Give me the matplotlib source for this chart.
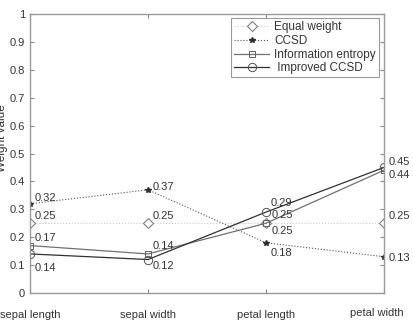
import matplotlib
matplotlib.use("Agg")
import matplotlib.pyplot as plt
from matplotlib.transforms import ScaledTranslation

categories = ["sepal length", "sepal width", "petal length", "petal width"]
equal_weight = [0.25, 0.25, 0.25, 0.25]
ccsd = [0.32, 0.37, 0.18, 0.13]
info_entropy = [0.17, 0.14, 0.25, 0.44]
improved_ccsd = [0.14, 0.12, 0.29, 0.45]

plt.rcParams['font.family'] = ['Liberation Sans', 'DejaVu Sans']

fig = plt.figure(figsize=(4.13, 3.32), dpi=100)
ax = fig.add_axes([30/413, 39/332, 354/413, 279/332])
x = [1, 2, 3, 4]

ax.plot(x, equal_weight, color='#c8c8c8', lw=0.8, ls=':', marker='D', ms=5,
        mfc='white', mec='#707070', mew=0.7, label='Equal weight')
ax.plot(x, ccsd, color='#505050', lw=0.8, ls=':', marker='*', ms=4,
        mfc='#303030', mec='#303030', label='CCSD')
ax.plot(x, info_entropy, color='#707070', lw=0.9, marker='s', ms=5,
        mfc='none', mec='#606060', mew=0.7, label='Information entropy')
ax.plot(x, improved_ccsd, color='#303030', lw=0.9, marker='o', ms=6,
        mfc='none', mec='#505050', mew=0.7, label=' Improved CCSD')

# annotation offsets in pixels (dx, dy)
offs = {
    'eq': [(5, 7), (5, 7), (6, -8), (5, 7)],
    'cc': [(5, 6), (5, 3), (5, -10), (5, -1)],
    'ie': [(5, 8), (5, 8), (6, 8), (5, -5)],
    'ic': [(5, -14), (5, -6), (5, 9), (5, 5)],
}
for key, vals in [('eq', equal_weight), ('cc', ccsd), ('ie', info_entropy), ('ic', improved_ccsd)]:
    for i, v in enumerate(vals):
        dx, dy = offs[key][i]
        ax.annotate(f"{v:.2f}", (x[i], v), xytext=(dx * 0.72, dy * 0.72),
                    textcoords='offset points', fontsize=8, color='#333333',
                    ha='left', va='center')

ax.set_xlim(1, 4)
ax.set_ylim(0, 1)
ax.set_xticks(x)
ax.set_xticklabels(categories)
ax.set_yticks([i / 10 for i in range(11)])
ax.set_yticklabels(['0'] + [f"0.{i}" for i in range(1, 10)] + ['1'])
ax.tick_params(direction='in', length=3, colors='#888888', labelcolor='#333333',
               labelsize=8, top=True, right=True)
ax.tick_params(axis='x', pad=12)
lbls = ax.get_xticklabels()
lbls[-1].set_transform(lbls[-1].get_transform() + ScaledTranslation(-7/100, 2/100, fig.dpi_scale_trans))
for s in ax.spines.values():
    s.set_color('#999999')
    s.set_linewidth(1.0)
ax.set_ylabel('Weight value', fontsize=8.5, color='#333333')
ax.yaxis.set_label_coords(-0.062, 0.556)

leg = ax.legend(loc='upper right', bbox_to_anchor=(0.985, 0.985), fontsize=8.5,
                frameon=True, fancybox=False, edgecolor='#808080',
                handlelength=3.0, handletextpad=0.4, borderpad=0.25,
                labelspacing=0.15, borderaxespad=0)
leg.get_frame().set_linewidth(0.8)
for t in leg.get_texts():
    t.set_color('#333333')

fig.savefig('out.png', dpi=100)
